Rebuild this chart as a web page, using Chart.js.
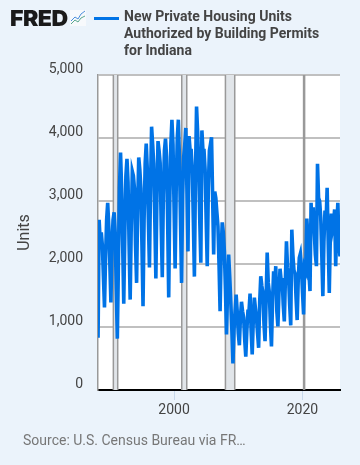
<!DOCTYPE html>
<html>
<head>
<meta charset="utf-8">
<title>New Private Housing Units Authorized by Building Permits for Indiana</title>
<script src="https://cdn.jsdelivr.net/npm/chart.js@4"></script>
<style>
  html, body { margin: 0; padding: 0; background: #ebf3fb; }
  #wrap { position: relative; width: 360px; height: 465px; overflow: hidden; font-family: Roboto, sans-serif; }
  #wrap canvas { position: absolute; left: 0; top: 0; }
  #logo { position: absolute; left: 10px; top: 5px; font: 900 22px/26px Inter, Roboto, sans-serif; letter-spacing: -0.5px; color: #1a1a1a; transform: scaleX(1.05); transform-origin: left; }
  #icon { position: absolute; left: 70px; top: 10px; }
  #key { position: absolute; left: 94px; top: 17px; width: 25px; height: 3px; background: #0073e6; }
  #title { position: absolute; left: 124px; top: 8px; font: 700 14px/17px Roboto, sans-serif; color: #444; }
  #source { position: absolute; left: 23px; top: 431px; font: 400 14px/18px Roboto, sans-serif; color: #777; }
</style>
</head>
<body>
<div id="wrap">
  <canvas id="fredChart" width="360" height="465"></canvas>
  <div id="logo">FRED</div>
  <svg id="icon" width="16" height="16" viewBox="0 0 16 16">
    <rect width="16" height="16" fill="#f7f9fc"/>
    <polyline points="1,11 5,7 8,9 11,4 15,1" fill="none" stroke="#4c8fdc" stroke-width="1"/>
    <polyline points="1,14 5,10 8,12 11,8 15,6" fill="none" stroke="#5aa88f" stroke-width="1"/>
  </svg>
  <div id="key"></div>
  <div id="title">New Private Housing Units<br>Authorized by Building Permits<br>for Indiana</div>
  <div id="source">Source: U.S. Census Bureau via FR…</div>
</div>
<script>
const firstMonth = 1988.17;
// readings, six per year: Jan Mar May Jul Sep Nov
const permits = [
  830, 2700, 2350, 2500, 2300, 1800,
  1310, 2100, 2700, 2970, 2600, 2000,
  1390, 2300, 2700, 2820, 2500, 1600,
  815, 2000, 3200, 3770, 3200, 2300,
  1370, 2500, 3400, 3670, 3300, 2300,
  1435, 2600, 3470, 3400, 3200, 2300,
  1700, 2900, 3690, 3500, 3200, 2300,
  1330, 2700, 3600, 3910, 3500, 2700,
  1945, 3200, 4180, 3900, 3600, 2700,
  1770, 3100, 3950, 3800, 3600, 2600,
  1790, 3100, 3800, 3990, 3700, 2700,
  1470, 3000, 3900, 4290, 3900, 2900,
  1930, 3200, 4000, 4290, 3700, 2700,
  1700, 3100, 3700, 3900, 4160, 3200,
  2200, 4030, 3800, 3800, 3500, 2700,
  1800, 3400, 4500, 4100, 3600, 2700,
  2020, 4120, 3800, 3800, 3500, 2700,
  1965, 3200, 3800, 3900, 4010, 3100,
  2150, 3150, 3050, 2820, 2600, 2000,
  1250, 2200, 2660, 2500, 2200, 1600,
  880, 1600, 2150, 1800, 1400, 950,
  420, 950, 1250, 1515, 1250, 900,
  710, 1150, 1400, 1250, 1150, 800,
  530, 950, 1250, 1250, 1530, 950,
  565, 1100, 1465, 1300, 1150, 900,
  670, 1400, 1805, 1650, 1550, 1050,
  775, 1450, 2180, 1700, 1550, 1050,
  690, 1400, 1885, 1600, 1965, 1250,
  1010, 1550, 1925, 1750, 1750, 1350,
  1090, 1750, 2360, 1950, 1800, 1350,
  1025, 2545, 2150, 1900, 1850, 1450,
  1110, 1750, 2100, 2165, 1950, 1550,
  1200, 1950, 1900, 2720, 2450, 1850,
  1570, 2970, 2500, 2900, 2500, 2150,
  1965, 3590, 3050, 3000, 2750, 2150,
  1490, 2350, 2850, 2650, 3210, 2350,
  1540, 2450, 2800, 2550, 2650, 2865,
  1965, 2600, 2970, 2350, 2120
];
const recessions = [[1990.55, 1991.23], [2001.2, 2001.98], [2008.0, 2009.45], [2020.17, 2020.33]];
const xTicks = [2000, 2020];
const yTicks = [0, 1000, 2000, 3000, 4000, 5000];

const points = permits.map((v, i) => ({ x: firstMonth + i / 6, y: v }));

// white plot background and the grey recession bands, under the line
const bands = {
  id: 'bands',
  beforeDraw(chart) {
    const { ctx, chartArea: a } = chart;
    ctx.fillStyle = '#fff';
    ctx.fillRect(a.left, a.top, a.right - a.left, a.bottom - a.top);
  },
  beforeDatasetsDraw(chart) {
    const { ctx, chartArea: a, scales } = chart;
    recessions.forEach(r => {
      const x0 = scales.x.getPixelForValue(r[0]);
      const x1 = scales.x.getPixelForValue(r[1]);
      ctx.fillStyle = '#e1e5e9';
      ctx.fillRect(x0, a.top, x1 - x0, a.bottom - a.top);
      ctx.fillStyle = '#999';
      ctx.fillRect(x0 - 0.75, a.top, 1.5, a.bottom - a.top);
      ctx.fillRect(x1 - 0.75, a.top, 1.5, a.bottom - a.top);
    });
  }
};

new Chart(document.getElementById('fredChart').getContext('2d'), {
  type: 'line',
  data: {
    datasets: [{
      label: 'New Private Housing Units Authorized by Building Permits for Indiana',
      data: points,
      borderColor: '#0073e6',
      borderWidth: 3.6,
      pointRadius: 0,
      tension: 0
    }]
  },
  options: {
    responsive: false,
    animation: false,
    layout: { padding: { top: 75, right: 20 } },
    plugins: { legend: { display: false }, tooltip: { enabled: false } },
    scales: {
      x: {
        type: 'linear',
        min: 1988.16,
        max: 2025.84,
        afterFit: s => { s.height = 75; },
        afterBuildTicks: s => { s.ticks = xTicks.map(v => ({ value: v })); },
        grid: { drawOnChartArea: false, drawTicks: true, tickLength: 10, color: '#c8d9ec' },
        border: { color: '#000', width: 2 },
        ticks: {
          maxRotation: 0,
          padding: 2,
          color: '#444',
          font: { family: 'Roboto', size: 14 },
          callback: v => String(v)
        }
      },
      y: {
        min: 0,
        max: 5000,
        afterFit: s => { s.width = 98; },
        afterBuildTicks: s => { s.ticks = yTicks.map(v => ({ value: v })); },
        grid: { color: '#c0c0c0', lineWidth: 2, drawTicks: false },
        border: { color: '#999', width: 1.5 },
        title: {
          display: true,
          text: 'Units',
          color: '#444',
          font: { family: 'Roboto', size: 16 },
          padding: { top: 15, bottom: 0 }
        },
        ticks: {
          padding: 15,
          labelOffset: -6,
          color: '#444',
          font: { family: 'Roboto', size: 14 },
          callback: v => v.toLocaleString('en-US')
        }
      }
    }
  },
  plugins: [bands]
});
</script>
</body>
</html>
